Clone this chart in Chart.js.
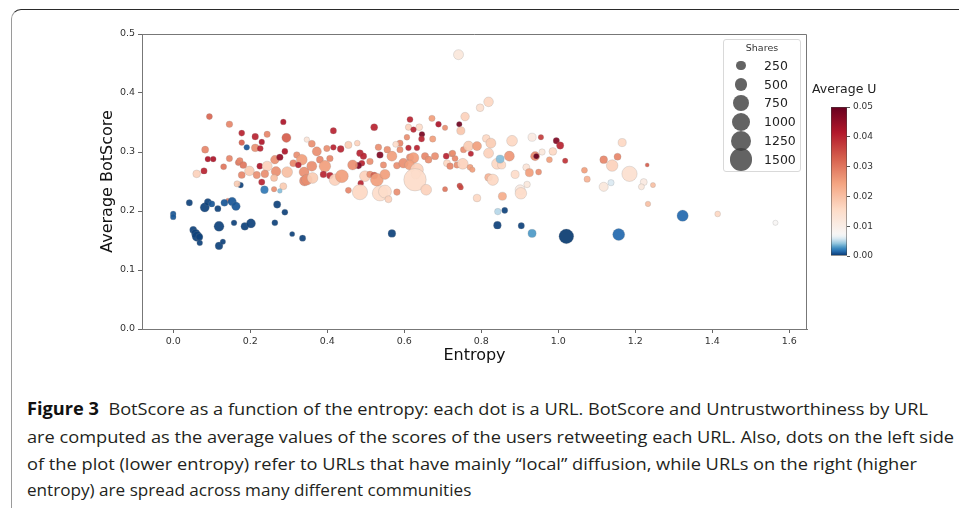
<!DOCTYPE html>
<html>
<head>
<meta charset="utf-8">
<script src="https://cdn.jsdelivr.net/npm/chart.js@4.4.0/dist/chart.umd.min.js"></script>
<style>
  body { margin: 0; width: 959px; height: 508px; background: #fff; position: relative; overflow: hidden; font-family: "DejaVu Sans", sans-serif; }
  #frame { position: absolute; left: 11px; top: 9px; width: 1000px; height: 600px; border-top: 1.4px solid #2a2a2a; border-left: 1.6px solid #9a9a9a; border-top-left-radius: 10px; }
  #main { position: absolute; left: 0; top: 0; }
  #cbar { position: absolute; left: 820px; top: 80px; }
  #cbarTitle { position: absolute; left: 812px; top: 81px; font-size: 12.5px; color: #222; white-space: nowrap; }
  #shares { position: absolute; left: 723px; top: 39px; width: 76px; height: 131px; border: 1px solid #d9d9d9; border-radius: 3px; background: #fff; }
  #shares .ttl { position: absolute; left: 0; width: 76px; top: 2px; text-align: center; font-size: 9.5px; color: #333; }
  #shares .dot { position: absolute; border-radius: 50%; background: rgba(60, 60, 60, 0.8); }
  #shares .lab { position: absolute; left: 40px; font-size: 12.5px; line-height: 16px; color: #222; }
  .cap { position: absolute; left: 27px; font-family: "Open Sans", "DejaVu Sans", sans-serif; font-size: 17px; line-height: 20px; color: #231f20; white-space: nowrap; transform-origin: left center; }
  .cap b { font-weight: bold; color: #111; }
</style>
</head>
<body>
<div id="frame"></div>
<canvas id="main" width="820" height="369"></canvas>
<canvas id="cbar" width="80" height="200"></canvas>
<div id="cbarTitle">Average U</div>
<div id="shares"><div class="ttl">Shares</div></div>
<div class="cap" data-w="901" style="top:399px"><b>Figure 3</b>&nbsp; BotScore as a function of the entropy: each dot is a URL. BotScore and Untrustworthiness by URL</div>
<div class="cap" data-w="927" style="top:427px">are computed as the average values of the scores of the users retweeting each URL. Also, dots on the left side</div>
<div class="cap" data-w="890" style="top:454px">of the plot (lower entropy) refer to URLs that have mainly “local” diffusion, while URLs on the right (higher</div>
<div class="cap" data-w="416" style="top:480px">entropy) are spread across many different communities</div>
<script>
// ---- data: one entry per URL ----
const entropy = [
  // blue cluster + far right
  0.142, 0.000, 0.000, 0.042, 0.082, 0.090, 0.100, 0.116, 0.133, 0.153,
  0.163, 0.270, 0.290, 0.052, 0.058, 0.062, 0.068, 0.069, 0.119, 0.119,
  0.129, 0.158, 0.186, 0.202, 0.264, 0.309, 0.336, 0.568, 0.842, 0.904,
  0.861, 0.843, 0.932, 1.021, 1.157, 1.323, 1.414, 1.564,
  // left cloud
  0.094, 0.146, 0.178, 0.213, 0.244, 0.286, 0.294, 0.230,
  0.191, 0.213, 0.226, 0.083, 0.090, 0.104, 0.080, 0.061,
  0.131, 0.146, 0.169, 0.173, 0.182, 0.178, 0.198, 0.178,
  0.217, 0.225, 0.244, 0.264, 0.277, 0.290, 0.267, 0.296,
  0.238, 0.230, 0.262, 0.286, 0.175, 0.166, 0.237, 0.262,
  0.277, 0.321, 0.334, 0.312, 0.325, 0.340, 0.341, 0.347,
  // middle cloud
  0.416, 0.522, 0.615, 0.672, 0.689, 0.706, 0.743, 0.611,
  0.639, 0.624, 0.646, 0.645, 0.607, 0.674, 0.360, 0.416,
  0.435, 0.455, 0.478, 0.399, 0.373, 0.381, 0.407, 0.533,
  0.537, 0.556, 0.568, 0.589, 0.578, 0.589, 0.611, 0.633,
  0.615, 0.624, 0.654, 0.680, 0.709, 0.724, 0.732, 0.663,
  0.485, 0.494, 0.490, 0.481, 0.466, 0.511, 0.546, 0.581,
  0.598, 0.614, 0.633, 0.630, 0.711, 0.719, 0.737, 0.360,
  0.347, 0.362, 0.394, 0.390, 0.407, 0.420, 0.438, 0.498,
  0.511, 0.522, 0.529, 0.550, 0.487, 0.455, 0.485, 0.537,
  0.550, 0.559, 0.581, 0.628, 0.657, 0.706, 0.744,
  // right cloud
  0.741, 0.819, 0.797, 0.758, 0.747, 0.813, 0.825, 0.880,
  0.932, 0.955, 0.995, 1.005, 0.986, 0.958, 0.940, 0.943,
  0.977, 1.018, 0.726, 0.754, 0.767, 0.789, 0.773, 0.819,
  0.873, 0.841, 0.853, 0.849, 0.752, 0.771, 0.777, 0.917,
  0.925, 0.949, 0.888, 0.819, 0.830, 0.747, 0.919, 0.901,
  0.903, 0.789, 0.855, 1.068, 1.075, 1.118, 1.166, 1.118,
  1.154, 1.140, 1.185, 1.231, 1.222, 1.216, 1.246, 1.233,
  1.137
];
const botScore = [
  0.218, 0.195, 0.190, 0.214, 0.206, 0.215, 0.212, 0.204, 0.214, 0.216,
  0.208, 0.211, 0.198, 0.168, 0.162, 0.157, 0.156, 0.146, 0.174, 0.141,
  0.148, 0.180, 0.174, 0.179, 0.180, 0.161, 0.154, 0.162, 0.176, 0.175,
  0.201, 0.199, 0.162, 0.157, 0.160, 0.192, 0.195, 0.180,

  0.360, 0.347, 0.332, 0.326, 0.330, 0.351, 0.324, 0.317,
  0.308, 0.307, 0.306, 0.304, 0.288, 0.288, 0.268, 0.263,
  0.275, 0.289, 0.282, 0.285, 0.278, 0.316, 0.268, 0.261,
  0.261, 0.276, 0.276, 0.287, 0.291, 0.301, 0.267, 0.266,
  0.263, 0.249, 0.256, 0.242, 0.244, 0.246, 0.236, 0.237,
  0.234, 0.295, 0.287, 0.281, 0.278, 0.266, 0.251, 0.321,

  0.336, 0.342, 0.355, 0.357, 0.347, 0.341, 0.347, 0.342,
  0.342, 0.338, 0.330, 0.322, 0.325, 0.322, 0.314, 0.308,
  0.305, 0.312, 0.315, 0.306, 0.301, 0.287, 0.289, 0.308,
  0.295, 0.304, 0.293, 0.315, 0.313, 0.304, 0.307, 0.307,
  0.291, 0.290, 0.293, 0.293, 0.293, 0.297, 0.289, 0.287,
  0.298, 0.293, 0.281, 0.277, 0.278, 0.284, 0.278, 0.277,
  0.281, 0.278, 0.270, 0.262, 0.281, 0.276, 0.278, 0.276,
  0.253, 0.256, 0.276, 0.262, 0.260, 0.253, 0.259, 0.259,
  0.262, 0.260, 0.253, 0.262, 0.247, 0.235, 0.232, 0.230,
  0.233, 0.220, 0.232, 0.253, 0.236, 0.237, 0.243,

  0.465, 0.385, 0.375, 0.360, 0.336, 0.323, 0.315, 0.319,
  0.325, 0.325, 0.319, 0.311, 0.301, 0.300, 0.293, 0.293,
  0.287, 0.285, 0.298, 0.304, 0.310, 0.310, 0.297, 0.298,
  0.293, 0.280, 0.278, 0.288, 0.280, 0.274, 0.270, 0.274,
  0.265, 0.266, 0.262, 0.257, 0.253, 0.240, 0.245, 0.236,
  0.230, 0.222, 0.225, 0.269, 0.254, 0.241, 0.316, 0.287,
  0.292, 0.277, 0.263, 0.278, 0.249, 0.241, 0.244, 0.212,
  0.248
];
const shares = [
  60, 100, 100, 120, 250, 150, 120, 120, 150, 220,
  220, 160, 110, 150, 200, 300, 150, 100, 300, 180,
  90, 100, 180, 250, 110, 80, 120, 180, 180, 120,
  110, 130, 200, 650, 430, 380, 100, 80,

  110, 130, 110, 130, 120, 100, 250, 100,
  100, 180, 110, 150, 100, 100, 120, 180,
  110, 120, 110, 130, 150, 100, 280, 150,
  160, 110, 300, 220, 130, 110, 280, 350,
  180, 120, 150, 150, 100, 120, 180, 90,
  70, 130, 350, 150, 110, 300, 300, 90,

  120, 150, 110, 120, 100, 90, 90, 120,
  140, 100, 100, 110, 100, 120, 150, 100,
  140, 160, 100, 120, 250, 150, 130, 130,
  130, 140, 300, 120, 110, 120, 100, 100,
  160, 350, 160, 160, 110, 120, 110, 150,
  140, 130, 110, 130, 300, 130, 120, 140,
  280, 300, 500, 250, 150, 130, 120, 300,
  350, 350, 400, 130, 140, 400, 500, 350,
  130, 150, 500, 300, 100, 110, 700, 700,
  500, 150, 130, 1500, 350, 80, 90,

  300, 280, 180, 220, 200, 180, 300, 350,
  200, 90, 120, 160, 180, 120, 250, 90,
  110, 90, 110, 120, 300, 250, 90, 300,
  300, 350, 200, 200, 350, 110, 90, 150,
  200, 110, 200, 180, 380, 80, 130, 300,
  400, 180, 200, 110, 120, 250, 200, 180,
  150, 400, 700, 50, 150, 110, 80, 90,
  120
];
const avgU = [
  0.030, 0.001, 0.001, 0.0005, 0.0005, 0.0005, 0.001, 0.0005, 0.001, 0.001,
  0.001, 0.0005, 0.0005, 0.0005, 0.0005, 0.0005, 0.0005, 0.0005, 0.0005, 0.0005,
  0.0005, 0.0005, 0.0005, 0.0005, 0.0005, 0.0005, 0.0005, 0.0005, 0.0005, 0.0005,
  0.0005, 0.005, 0.003, 0.0003, 0.0015, 0.0015, 0.016, 0.0075,

  0.032, 0.028, 0.040, 0.040, 0.028, 0.042, 0.033, 0.042,
  0.001, 0.027, 0.040, 0.028, 0.042, 0.042, 0.040, 0.017,
  0.030, 0.028, 0.030, 0.028, 0.030, 0.033, 0.018, 0.028,
  0.027, 0.042, 0.017, 0.027, 0.045, 0.042, 0.027, 0.020,
  0.027, 0.040, 0.020, 0.018, 0.0005, 0.018, 0.002, 0.027,
  0.004, 0.027, 0.025, 0.028, 0.040, 0.027, 0.028, 0.013,

  0.040, 0.040, 0.040, 0.025, 0.042, 0.027, 0.049, 0.017,
  0.015, 0.040, 0.048, 0.040, 0.027, 0.025, 0.027, 0.040,
  0.040, 0.018, 0.017, 0.027, 0.027, 0.028, 0.028, 0.027,
  0.047, 0.027, 0.025, 0.028, 0.015, 0.027, 0.040, 0.040,
  0.027, 0.025, 0.028, 0.027, 0.040, 0.027, 0.028, 0.027,
  0.040, 0.040, 0.040, 0.047, 0.027, 0.027, 0.027, 0.027,
  0.027, 0.025, 0.017, 0.013, 0.016, 0.028, 0.027, 0.027,
  0.027, 0.018, 0.025, 0.040, 0.040, 0.017, 0.025, 0.017,
  0.027, 0.033, 0.025, 0.025, 0.040, 0.028, 0.016, 0.015,
  0.015, 0.017, 0.027, 0.015, 0.017, 0.030, 0.036,

  0.012, 0.016, 0.014, 0.017, 0.019, 0.016, 0.018, 0.016,
  0.011, 0.037, 0.047, 0.040, 0.016, 0.012, 0.028, 0.050,
  0.025, 0.038, 0.027, 0.027, 0.018, 0.025, 0.040, 0.017,
  0.026, 0.016, 0.016, 0.004, 0.017, 0.025, 0.025, 0.013,
  0.025, 0.027, 0.015, 0.022, 0.016, 0.036, 0.012, 0.011,
  0.015, 0.016, 0.023, 0.025, 0.022, 0.012, 0.016, 0.028,
  0.028, 0.017, 0.014, 0.033, 0.011, 0.012, 0.020, 0.020,
  0.006
];

// ticks / legend
const xTicks = [0.0, 0.2, 0.4, 0.6, 0.8, 1.0, 1.2, 1.4, 1.6];
const yTicks = [0.0, 0.1, 0.2, 0.3, 0.4, 0.5];
const uTicks = [0.00, 0.01, 0.02, 0.03, 0.04, 0.05];
const legendShares = [250, 500, 750, 1000, 1250, 1500];

const U_MAX = 0.05;
const U_CENTER = 0.007;   // white point of the colour scale

// RdBu_r
const RDBU_R = ['#053061', '#2166ac', '#4393c3', '#92c5de', '#d1e5f0', '#f7f7f7',
                '#fddbc7', '#f4a582', '#d6604d', '#b2182b', '#67001f'];

function hexRgb(h) {
  return [parseInt(h.slice(1, 3), 16), parseInt(h.slice(3, 5), 16), parseInt(h.slice(5, 7), 16)];
}
function cmap(t) {
  t = Math.max(0, Math.min(1, t));
  const p = t * (RDBU_R.length - 1);
  const i = Math.min(Math.floor(p), RDBU_R.length - 2);
  const f = p - i;
  const a = hexRgb(RDBU_R[i]), b = hexRgb(RDBU_R[i + 1]);
  return a.map((v, k) => Math.round(v + (b[k] - v) * f));
}
function norm(u) {
  return u <= U_CENTER ? 0.5 * u / U_CENTER : 0.5 + 0.5 * (u - U_CENTER) / (U_MAX - U_CENTER);
}
function rgba(c, a) { return 'rgba(' + c[0] + ',' + c[1] + ',' + c[2] + ',' + a + ')'; }
function radius(s) { return 0.29 * Math.sqrt(s); }

Chart.defaults.font.family = "'DejaVu Sans', sans-serif";
Chart.defaults.color = '#333';

const points = entropy.map((x, i) => ({ x: x, y: botScore[i], r: radius(shares[i]) }));
const fills = avgU.map(u => rgba(cmap(norm(u)), 0.93));

// top and right spines
const boxPlugin = {
  id: 'box',
  afterDraw(chart) {
    const { ctx, chartArea: a } = chart;
    ctx.save();
    ctx.strokeStyle = '#777';
    ctx.lineWidth = 1;
    ctx.beginPath();
    ctx.moveTo(a.left, a.top + 0.5);
    ctx.lineTo(a.right - 0.5, a.top + 0.5);
    ctx.lineTo(a.right - 0.5, a.bottom);
    ctx.stroke();
    ctx.restore();
  }
};

new Chart(document.getElementById('main'), {
  type: 'bubble',
  data: {
    datasets: [{
      data: points,
      backgroundColor: fills,
      borderColor: 'rgba(140,140,140,0.45)',
      borderWidth: 0.5,
      hoverRadius: 0
    }]
  },
  options: {
    responsive: false,
    animation: false,
    events: [],
    layout: { padding: { left: 94, top: 34, right: 13, bottom: 0 } },
    plugins: { legend: { display: false }, tooltip: { enabled: false } },
    scales: {
      x: {
        type: 'linear',
        min: -0.081,
        max: 1.646,
        afterFit(s) { s.height = 40; },
        afterBuildTicks(s) { s.ticks = xTicks.map(v => ({ value: v })); },
        ticks: { callback: v => v.toFixed(1), color: '#333', font: { size: 9.5 }, padding: 3, maxRotation: 0 },
        grid: { drawOnChartArea: false, tickLength: 4, tickColor: '#666' },
        border: { color: '#777', width: 1 },
        title: { display: true, text: 'Entropy', color: '#111', font: { size: 16 } }
      },
      y: {
        min: 0,
        max: 0.5,
        afterFit(s) { s.width = 48; },
        afterBuildTicks(s) { s.ticks = yTicks.map(v => ({ value: v })); },
        ticks: { callback: v => v.toFixed(1), color: '#333', font: { size: 9.5 }, padding: 3 },
        grid: { drawOnChartArea: false, tickLength: 4, tickColor: '#666' },
        border: { color: '#777', width: 1 },
        title: { display: true, text: 'Average BotScore', color: '#111', font: { size: 16 } }
      }
    }
  },
  plugins: [boxPlugin]
});

// colour bar
new Chart(document.getElementById('cbar'), {
  type: 'bar',
  data: {
    labels: [''],
    datasets: [{
      data: [[0, U_MAX]],
      backgroundColor(c) {
        const chart = c.chart, a = chart.chartArea;
        if (!a) return '#ccc';
        const y = chart.scales.y;
        const g = chart.ctx.createLinearGradient(0, y.getPixelForValue(0), 0, y.getPixelForValue(U_MAX));
        for (let k = 0; k <= 60; k++) {
          g.addColorStop(k / 60, rgba(cmap(norm(k / 60 * U_MAX)), 1));
        }
        return g;
      },
      borderColor: '#444',
      borderWidth: 0.8,
      borderSkipped: false,
      barPercentage: 1,
      categoryPercentage: 1
    }]
  },
  options: {
    responsive: false,
    animation: false,
    events: [],
    layout: { padding: { left: 11, top: 27, right: 0, bottom: 24 } },
    plugins: { legend: { display: false }, tooltip: { enabled: false } },
    scales: {
      x: { display: false },
      y: {
        position: 'right',
        min: 0,
        max: U_MAX,
        afterFit(s) { s.width = 53; },
        afterBuildTicks(s) { s.ticks = uTicks.map(v => ({ value: v })); },
        ticks: { callback: v => v.toFixed(2), color: '#333', font: { size: 9 }, padding: 3 },
        grid: { drawOnChartArea: false, tickLength: 3, tickColor: '#555' },
        border: { display: false }
      }
    }
  }
});

// size legend
const box = document.getElementById('shares');
legendShares.forEach((s, i) => {
  const cy = 25.7 + i * 18.8;
  const r = radius(s);
  const dot = document.createElement('div');
  dot.className = 'dot';
  dot.style.left = (17 - r) + 'px';
  dot.style.top = (cy - r) + 'px';
  dot.style.width = dot.style.height = (2 * r) + 'px';
  box.appendChild(dot);
  const lab = document.createElement('div');
  lab.className = 'lab';
  lab.style.top = (cy - 8) + 'px';
  lab.textContent = s;
  box.appendChild(lab);
});

// fit caption lines to their widths; the short last line takes a blend
// of its own fit and the full lines' average so glyphs stay the same size
const caps = Array.from(document.querySelectorAll('.cap'));
const fit = caps.map(el => parseFloat(el.dataset.w) / el.getBoundingClientRect().width);
const fullAvg = (fit[0] + fit[1] + fit[2]) / 3;
caps.forEach((el, i) => {
  const k = i === caps.length - 1 ? (fit[i] + fullAvg) / 2 : fit[i];
  el.style.transform = 'scaleX(' + k + ')';
});
</script>
</body>
</html>
